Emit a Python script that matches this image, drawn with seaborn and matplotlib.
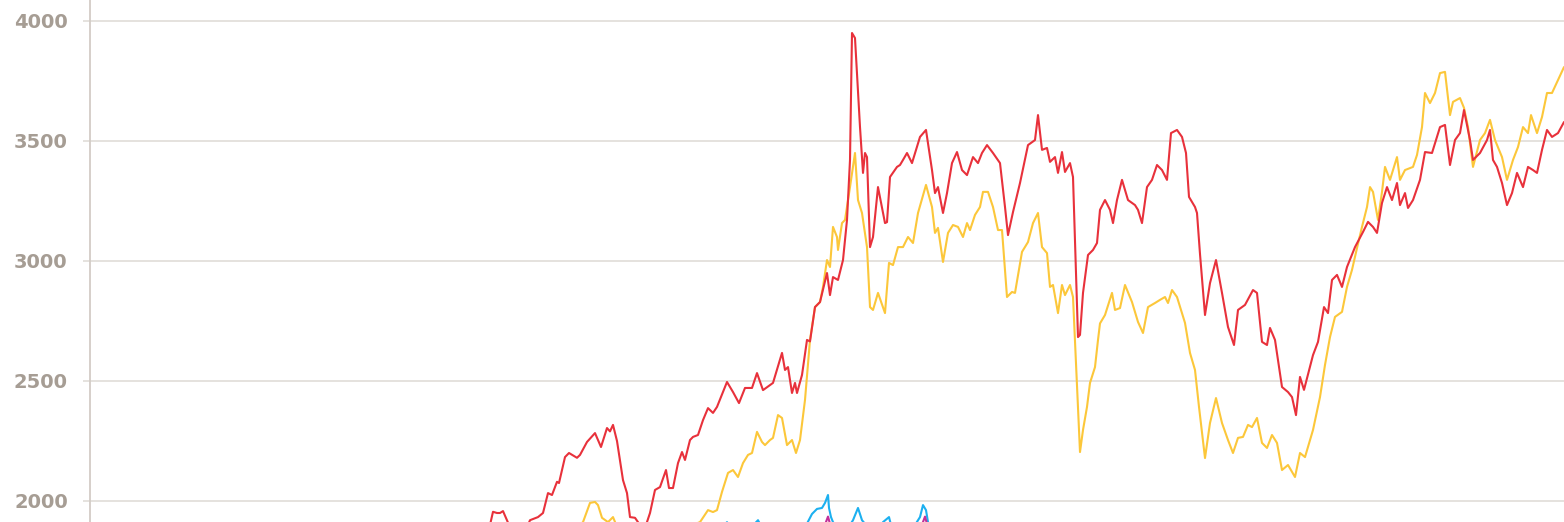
import numpy as np
import pandas as pd
import matplotlib
matplotlib.use("Agg")
import matplotlib.pyplot as plt
import seaborn as sns

# ---- data (x = day index, y = value) ----
red_x = [484, 490, 493, 497, 500, 503, 507, 511, 520, 528, 530, 538, 543, 548, 552, 557, 559, 565, 569, 577,
         580, 587, 595, 601, 607, 610, 613, 617, 623, 627, 630, 635, 638, 642, 646, 650, 655, 660, 666, 669,
         673, 678, 682, 685, 690, 693, 698, 703, 708, 713, 717, 727, 733, 739, 745, 752, 757, 763, 773, 782,
         785, 788, 792, 795, 797, 802, 807, 810, 815, 820, 827, 830, 833, 838, 843, 847, 850, 852, 855, 860,
         863, 865, 867, 870, 873, 878, 885, 887, 890, 897, 900, 903, 907, 912, 920, 926, 932, 935, 938, 943,
         947, 952, 957, 962, 967, 973, 978, 982, 987, 993, 1000, 1005, 1008, 1013, 1020, 1028, 1035, 1038, 1042, 1047,
         1050, 1055, 1058, 1062, 1065, 1070, 1073, 1078, 1080, 1083, 1088, 1093, 1097, 1100, 1105, 1110, 1113, 1117, 1122, 1128,
         1135, 1138, 1142, 1147, 1152, 1157, 1162, 1167, 1171, 1177, 1182, 1186, 1189, 1195, 1197, 1200, 1205, 1210, 1216, 1222,
         1228, 1234, 1238, 1245, 1253, 1257, 1262, 1267, 1270, 1275, 1282, 1288, 1292, 1296, 1300, 1304, 1313, 1318, 1324, 1328,
         1332, 1337, 1342, 1347, 1355, 1363, 1368, 1373, 1377, 1382, 1387, 1392, 1397, 1400, 1405, 1408, 1413, 1420, 1425, 1432,
         1440, 1445, 1450, 1455, 1460, 1464, 1470, 1473, 1480, 1487, 1490, 1493, 1497, 1502, 1507, 1512, 1517, 1523, 1528, 1533,
         1537, 1542, 1547, 1552, 1558, 1564]
red_y = [1870, 1900, 1955, 1950, 1950, 1958, 1920, 1880, 1870, 1900, 1920, 1933, 1950, 2033, 2025, 2080, 2075, 2183, 2200, 2180,
         2192, 2246, 2283, 2225, 2304, 2290, 2317, 2250, 2087, 2033, 1933, 1930, 1912, 1880, 1900, 1950, 2046, 2058, 2129, 2054,
         2054, 2158, 2204, 2171, 2254, 2267, 2275, 2337, 2387, 2367, 2392, 2496, 2454, 2408, 2471, 2471, 2533, 2462, 2492, 2617,
         2546, 2558, 2450, 2492, 2450, 2525, 2671, 2665, 2808, 2829, 2950, 2858, 2933, 2921, 3004, 3171, 3421, 3950, 3929, 3558,
         3367, 3450, 3433, 3058, 3100, 3308, 3158, 3162, 3350, 3392, 3400, 3421, 3450, 3408, 3517, 3546, 3379, 3283, 3308, 3200,
         3283, 3408, 3454, 3379, 3358, 3433, 3408, 3450, 3483, 3450, 3408, 3225, 3108, 3204, 3325, 3483, 3504, 3608, 3463, 3471,
         3413, 3433, 3367, 3454, 3371, 3408, 3350, 2683, 2692, 2867, 3025, 3046, 3075, 3213, 3254, 3213, 3158, 3254, 3338, 3254,
         3233, 3213, 3158, 3308, 3338, 3400, 3379, 3338, 3533, 3546, 3517, 3450, 3267, 3225, 3200, 3029, 2775, 2908, 3004, 2867,
         2725, 2650, 2796, 2817, 2879, 2867, 2663, 2650, 2721, 2671, 2475, 2454, 2433, 2358, 2517, 2463, 2608, 2663, 2808, 2783,
         2921, 2942, 2892, 2975, 3058, 3121, 3163, 3142, 3117, 3242, 3308, 3254, 3325, 3233, 3283, 3221, 3254, 3338, 3454, 3450,
         3558, 3567, 3400, 3504, 3533, 3629, 3504, 3421, 3450, 3504, 3546, 3421, 3392, 3325, 3233, 3283, 3367, 3308, 3392, 3379,
         3367, 3463, 3546, 3517, 3533, 3579]

yellow_x = [570, 583, 590, 595, 598, 602, 608, 613, 615, 620, 660, 700, 708, 713, 717, 722, 728, 733, 738, 743,
            748, 752, 757, 762, 765, 770, 773, 778, 782, 787, 792, 796, 800, 805, 810, 815, 820, 823, 827, 830,
            833, 837, 838, 842, 845, 850, 855, 858, 862, 867, 870, 873, 878, 885, 889, 893, 898, 903, 908, 913,
            918, 926, 932, 935, 938, 943, 948, 953, 958, 963, 967, 970, 975, 980, 983, 988, 993, 998, 1002, 1007,
            1012, 1015, 1022, 1028, 1033, 1038, 1042, 1047, 1050, 1053, 1058, 1062, 1065, 1070, 1073, 1077, 1080, 1083, 1087, 1090,
            1095, 1098, 1100, 1105, 1112, 1115, 1120, 1125, 1132, 1138, 1143, 1148, 1155, 1160, 1165, 1168, 1172, 1177, 1185, 1190,
            1195, 1199, 1205, 1210, 1216, 1222, 1228, 1233, 1238, 1243, 1248, 1252, 1257, 1262, 1267, 1272, 1277, 1282, 1288, 1295,
            1300, 1305, 1313, 1320, 1325, 1330, 1335, 1342, 1347, 1352, 1357, 1362, 1367, 1370, 1373, 1378, 1382, 1385, 1390, 1397,
            1400, 1405, 1413, 1417, 1422, 1425, 1430, 1435, 1440, 1445, 1450, 1453, 1460, 1464, 1468, 1473, 1480, 1485, 1490, 1495,
            1502, 1507, 1513, 1518, 1523, 1528, 1531, 1537, 1542, 1547, 1552, 1558, 1564]
yellow_y = [1870, 1912, 1992, 1996, 1983, 1930, 1912, 1933, 1912, 1870, 1850, 1912, 1962, 1954, 1962, 2038, 2117, 2129, 2100, 2158,
            2192, 2200, 2288, 2246, 2233, 2254, 2263, 2358, 2346, 2233, 2254, 2200, 2254, 2421, 2671, 2808, 2829, 2892, 3004, 2975,
            3142, 3100, 3046, 3158, 3171, 3308, 3450, 3254, 3200, 3058, 2808, 2796, 2867, 2783, 2992, 2983, 3058, 3058, 3100, 3075,
            3200, 3317, 3225, 3117, 3138, 2996, 3117, 3150, 3142, 3100, 3158, 3129, 3192, 3225, 3288, 3288, 3225, 3129, 3129, 2850,
            2871, 2867, 3038, 3079, 3158, 3200, 3058, 3033, 2892, 2900, 2783, 2900, 2858, 2900, 2850, 2475, 2204, 2296, 2392, 2492,
            2558, 2671, 2740, 2775, 2867, 2796, 2804, 2900, 2829, 2746, 2700, 2808, 2825, 2838, 2850, 2825, 2879, 2850, 2742, 2617,
            2546, 2392, 2179, 2325, 2429, 2325, 2254, 2200, 2263, 2267, 2317, 2308, 2346, 2242, 2221, 2275, 2242, 2129, 2150, 2100,
            2200, 2183, 2296, 2433, 2567, 2683, 2767, 2788, 2892, 2963, 3054, 3142, 3225, 3308, 3288, 3171, 3288, 3392, 3338, 3433,
            3338, 3379, 3392, 3442, 3558, 3700, 3658, 3700, 3783, 3788, 3608, 3663, 3679, 3638, 3558, 3392, 3504, 3533, 3588, 3504,
            3433, 3338, 3421, 3475, 3558, 3533, 3608, 3533, 3600, 3700, 3700, 3754, 3808]

blue_x = [690, 720, 727, 732, 750, 758, 763, 790, 805, 812, 817, 822, 825, 828, 829, 831, 833, 840, 850, 853,
          858, 862, 870, 880, 883, 889, 891, 905, 915, 920, 923, 926, 928, 935]
blue_y = [1850, 1880, 1912, 1880, 1885, 1920, 1880, 1870, 1890, 1946, 1967, 1971, 1992, 2025, 1971, 1933, 1912, 1880, 1900, 1920,
          1971, 1920, 1880, 1890, 1912, 1933, 1900, 1880, 1900, 1933, 1983, 1962, 1912, 1870]

purple_x = [800, 824, 828, 831, 860, 921, 925, 928, 940]
purple_y = [1850, 1890, 1935, 1890, 1870, 1890, 1935, 1890, 1850]

series_names = ["yellow", "red", "blue", "purple"]
colors = {"yellow": "#fcc73a", "red": "#e8313b", "blue": "#1cb0f0", "purple": "#c3309a"}

df = pd.concat([
    pd.DataFrame({"x": yellow_x, "y": yellow_y, "s": "yellow"}),
    pd.DataFrame({"x": red_x, "y": red_y, "s": "red"}),
    pd.DataFrame({"x": blue_x, "y": blue_y, "s": "blue"}),
    pd.DataFrame({"x": purple_x, "y": purple_y, "s": "purple"}),
], ignore_index=True)

sns.set_theme(style="white")
plt.rcParams['font.family'] = ['DejaVu Sans']

fig = plt.figure(figsize=(15.64, 5.22), dpi=100)
ax = fig.add_axes([90 / 1564, 0, 1474 / 1564, 1])

for name in series_names:
    sub = df[df["s"] == name]
    sns.lineplot(data=sub, x="x", y="y", ax=ax, color=colors[name], linewidth=1.5,
                 estimator=None, sort=False, legend=False)

ax.set_xlim(90, 1564)
ax.set_ylim(1912.5, 4087.5)
ax.set_yticks([2000, 2500, 3000, 3500, 4000])
ax.set_xticks([])
ax.set_xlabel("")
ax.set_ylabel("")
ax.yaxis.grid(True, color="#e3dfdb", linewidth=1.3)
ax.set_axisbelow(True)
for sp in ["top", "right", "bottom"]:
    ax.spines[sp].set_visible(False)
ax.spines["left"].set_color("#d3ccc6")
ax.spines["left"].set_linewidth(1.3)
ax.tick_params(axis="y", which="major", length=5, width=1.3, color="#e3dfdb",
               pad=11, labelsize=14, labelcolor="#a69d94", left=True)
for lab in ax.get_yticklabels():
    lab.set_fontweight("bold")

fig.savefig("out.png", dpi=100)
